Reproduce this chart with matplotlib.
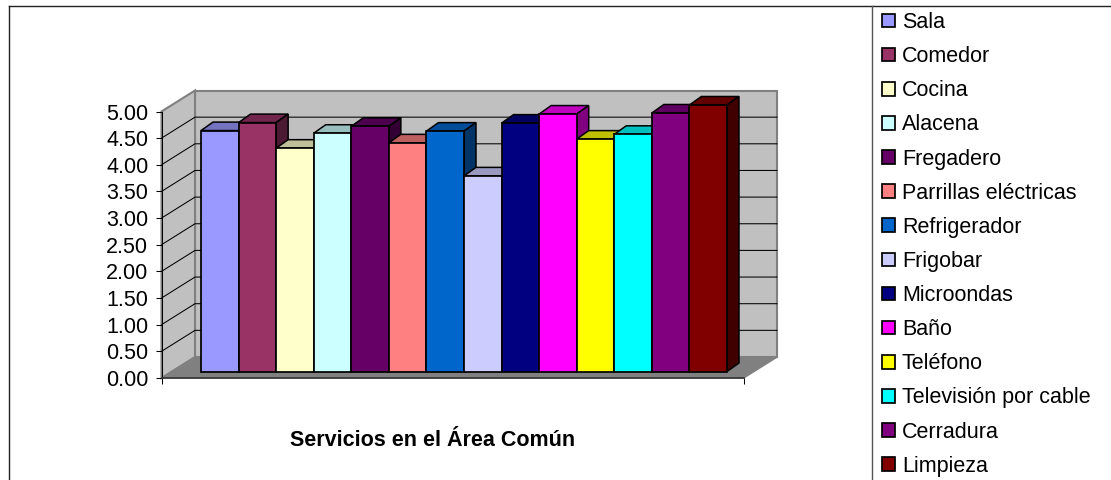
import matplotlib
matplotlib.use("Agg")
import matplotlib.pyplot as plt
from matplotlib.patches import Patch, Polygon
from matplotlib.lines import Line2D
from matplotlib.colors import to_rgb

plt.rcParams['font.family'] = ['Liberation Sans', 'DejaVu Sans']

categories = ["Sala", "Comedor", "Cocina", "Alacena", "Fregadero", "Parrillas eléctricas",
              "Refrigerador", "Frigobar", "Microondas", "Baño", "Teléfono",
              "Televisión por cable", "Cerradura", "Limpieza"]
values = [4.52, 4.67, 4.19, 4.47, 4.60, 4.29, 4.51, 3.67, 4.66, 4.83, 4.36, 4.45, 4.85, 5.00]
colors = ["#9999FF", "#993366", "#FFFFCC", "#CCFFFF", "#660066", "#FF8080", "#0066CC",
          "#CCCCFF", "#000080", "#FF00FF", "#FFFF00", "#00FFFF", "#800080", "#800000"]
y_ticks = [0, 0.5, 1, 1.5, 2, 2.5, 3, 3.5, 4, 4.5, 5]
title = "Servicios en el Área Común"

W, H = 1111, 480
fig = plt.figure(figsize=(W / 100, H / 100), dpi=100, facecolor="white")


def box(l, t, r, b):
    return [l / W, 1 - b / H, (r - l) / W, (b - t) / H]


ax = fig.add_axes(box(161.5, 111.5, 744, 378))
ax.patch.set_visible(False)
PX = 37.57                # pixels per category
XMAX = 582.5 / PX
X0 = 39.5 / PX            # first bar's left edge
BASE = 6.5 / 53.3         # bars stand a little behind the floor's front edge
DX, DY = 33.5 / PX, 21 / 53.3  # depth of the walls
dx, dy = 12 / PX, 8.5 / 53.3   # depth of each bar
ax.set_xlim(0, XMAX)
ax.set_ylim(0, 5)


def poly(pts, fc, ec, lw, z):
    ax.add_patch(Polygon(pts, closed=True, facecolor=fc, edgecolor=ec, linewidth=lw,
                         zorder=z, clip_on=False, joinstyle="miter"))


# walls and floor
poly([(DX, DY), (XMAX + DX, DY), (XMAX + DX, 5 + DY), (DX, 5 + DY)], "#C0C0C0", "#808080", 1.5, 1)
poly([(0, 0), (DX, DY), (DX, 5 + DY), (0, 5)], "#C0C0C0", "#808080", 1.5, 1)
poly([(0, 0), (XMAX, 0), (XMAX + DX, DY), (DX, DY)], "#808080", "#808080", 0.8, 1.5)
for t in y_ticks[1:-1]:
    ax.plot([0, DX, XMAX + DX], [t, t + DY, t + DY], color="black", lw=0.75, zorder=2,
            clip_on=False, solid_capstyle="butt")

# bars: depth faces first, then the front, left to right
for i, (v, c) in enumerate(zip(values, colors)):
    x = X0 + i
    top = BASE + v
    rgb = to_rgb(c)
    z = 3 + i
    poly([(x, top), (x + 1, top), (x + 1 + dx, top + dy), (x + dx, top + dy)],
         tuple(k * 0.75 for k in rgb), "black", 1.1, z)
    poly([(x + 1, BASE), (x + 1 + dx, BASE + dy), (x + 1 + dx, top + dy), (x + 1, top)],
         tuple(k * 0.5 for k in rgb), "black", 1.1, z)
    ax.bar(x + 0.5, v, width=1, bottom=BASE, color=c, edgecolor="black", linewidth=1.25,
           zorder=z + 0.5, clip_on=False)

# axes
for s in ("top", "right"):
    ax.spines[s].set_visible(False)
ax.spines["left"].set_linewidth(0.75)
ax.spines["bottom"].set_linewidth(1.2)
ax.spines["bottom"].set_color("#333333")
ax.spines["left"].set_zorder(2)
ax.spines["bottom"].set_zorder(2)
ax.set_yticks(y_ticks)
ax.set_yticklabels([f"{t:.2f}" for t in y_ticks], fontsize=15.5, color="black")
ax.tick_params(axis="y", length=4, width=0.75, pad=5.5)
ax.set_xticks([0, XMAX])
ax.set_xticklabels(["", ""])
ax.tick_params(axis="x", length=4, width=0.75)
ax.set_xlabel("")
fig.text(433 / W, 1 - 441 / H, title, ha="center", va="center", fontsize=15.5, fontweight="bold")

# legend
handles = [Patch(facecolor=c, edgecolor="black", linewidth=1.25) for c in colors]
leg = fig.legend(handles, categories, loc="upper left",
                 bbox_to_anchor=(882.5 / W, 1 - 12 / H), frameon=False, fontsize=15.5,
                 labelspacing=0.61, handlelength=0.6, handleheight=0.6, handletextpad=0.3,
                 borderaxespad=0, borderpad=0, labelcolor="black")

# outer frames of chart and legend
for xs, ys, c in [((9, 9), (5.5, 480), "#222222"), ((9, 1111), (5.5, 5.5), "#222222"),
                  ((872, 872), (5.5, 480), "#555555")]:
    fig.add_artist(Line2D([x / W for x in xs], [1 - y / H for y in ys], color=c, lw=1.0))

fig.savefig("out.png", dpi=100)
